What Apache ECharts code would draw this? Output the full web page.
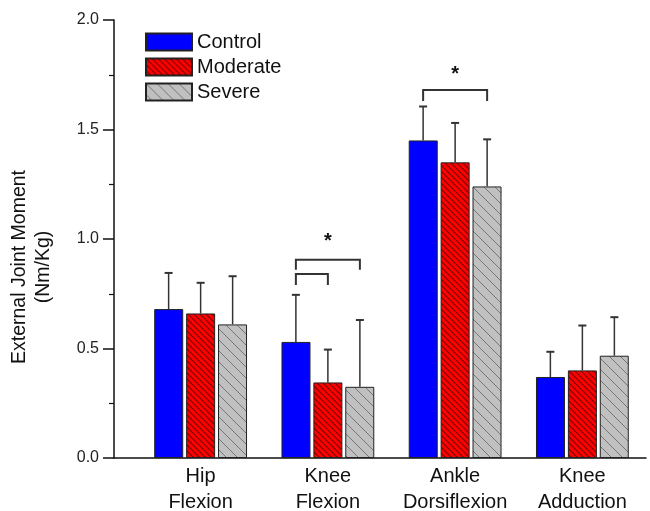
<!DOCTYPE html>
<html>
<head>
<meta charset="utf-8">
<script src="https://cdn.jsdelivr.net/npm/echarts@6/dist/echarts.min.js"></script>
<style>
  html, body { margin: 0; padding: 0; background: #fff; }
  #chart { width: 650px; height: 511px; }
</style>
</head>
<body>
<div id="chart"></div>
<script>
const categories = ['Hip\nFlexion', 'Knee\nFlexion', 'Ankle\nDorsiflexion', 'Knee\nAdduction'];
const groups = ['Control', 'Moderate', 'Severe'];
const controlMean = [0.68, 0.53, 1.45, 0.37];
const controlSD = [0.165, 0.215, 0.155, 0.115];
const moderateMean = [0.66, 0.345, 1.35, 0.40];
const moderateSD = [0.14, 0.15, 0.18, 0.205];
const severeMean = [0.61, 0.325, 1.24, 0.467];
const severeSD = [0.22, 0.305, 0.215, 0.176];
// [category, from bar, to bar, bracket top, leg end, star level]
const brackets = [
  [1, 0, 2, 0.905, 0.86, 0.99],
  [1, 0, 1, 0.84, 0.79, null],
  [2, 0, 2, 1.68, 1.63, 1.75]
];
const yTicks = [0, 0.5, 1.0, 1.5, 2.0];

const BAR_W = 29;
const BAR_STEP = 32;
const FONT = 'Arial, "Liberation Sans", sans-serif';

// diagonal "\" hatch pattern
function hatch(bg, line, size, width) {
  const c = document.createElement('canvas');
  c.width = c.height = size;
  const ctx = c.getContext('2d');
  ctx.fillStyle = bg;
  ctx.fillRect(0, 0, size, size);
  ctx.strokeStyle = line;
  ctx.lineWidth = width;
  [-size, 0, size].forEach(k => {
    ctx.beginPath();
    ctx.moveTo(k, 0);
    ctx.lineTo(k + size, size);
    ctx.stroke();
  });
  return { image: c, repeat: 'repeat' };
}

const fills = [
  '#0000ff',
  hatch('#ff0000', '#7a0000', 6, 1.2),
  hatch('#c0c0c0', '#767676', 11, 1)
];
const means = [controlMean, moderateMean, severeMean];
const sds = [controlSD, moderateSD, severeSD];

const barSeries = groups.map((g, i) => ({
  name: g,
  type: 'bar',
  barWidth: BAR_W,
  barGap: '10%',
  data: means[i],
  itemStyle: { color: fills[i], borderColor: '#222', borderWidth: 1 },
  z: 2
}));

const errSeries = groups.map((g, i) => ({
  type: 'custom',
  data: means[i].map((m, k) => [k, m, sds[i][k]]),
  z: 3,
  renderItem: (params, api) => {
    const base = api.coord([api.value(0), api.value(1)]);
    const top = api.coord([api.value(0), api.value(1) + api.value(2)]);
    const x = base[0] + (i - 1) * BAR_STEP;
    const style = { stroke: '#333', lineWidth: 1.5 };
    return {
      type: 'group',
      children: [
        { type: 'line', shape: { x1: x, y1: base[1], x2: x, y2: top[1] }, style },
        { type: 'line', shape: { x1: x - 4, y1: top[1], x2: x + 4, y2: top[1] }, style: { stroke: '#333', lineWidth: 2 } }
      ]
    };
  }
}));

const bracketSeries = {
  type: 'custom',
  data: brackets,
  z: 4,
  renderItem: (params, api) => {
    const cat = api.value(0);
    const c = api.coord([cat, api.value(3)]);
    const leg = api.coord([cat, api.value(4)]);
    const x1 = c[0] + (api.value(1) - 1) * BAR_STEP;
    const x2 = c[0] + (api.value(2) - 1) * BAR_STEP;
    const style = { stroke: '#333', lineWidth: 2, fill: null };
    const children = [{
      type: 'polyline',
      shape: { points: [[x1, leg[1]], [x1, c[1]], [x2, c[1]], [x2, leg[1]]] },
      style
    }];
    const star = brackets[params.dataIndex][5];
    if (star != null) {
      const s = api.coord([cat, star]);
      children.push({
        type: 'text',
        x: (x1 + x2) / 2,
        y: s[1],
        style: { text: '*', fontSize: 20, fontWeight: 'bold', fontFamily: FONT, fill: '#111', align: 'center', verticalAlign: 'middle' }
      });
    }
    return { type: 'group', children };
  }
};

const chart = echarts.init(document.getElementById('chart'));
chart.setOption({
  animation: false,
  backgroundColor: '#fff',
  legend: {
    data: groups,
    orient: 'vertical',
    left: 140,
    top: 27,
    itemWidth: 46,
    itemHeight: 17,
    itemGap: 5,
    icon: 'rect',
    textStyle: { fontSize: 20, color: '#111', fontFamily: FONT }
  },
  grid: [
    { left: 137, right: 4, top: 20, bottom: 53, outerBoundsMode: 'none' },
    { left: 114, right: 4, top: 20, bottom: 53, outerBoundsMode: 'none' }
  ],
  xAxis: [
    {
      type: 'category',
      data: categories,
      gridIndex: 0,
      axisLine: { show: false },
      axisTick: { show: false },
      axisLabel: { fontSize: 20, lineHeight: 26, color: '#111', fontFamily: FONT, margin: 5, interval: 0 }
    },
    {
      type: 'value',
      gridIndex: 1,
      min: 0,
      max: 1,
      axisLine: { show: true, lineStyle: { color: '#111', width: 1.5 } },
      axisTick: { show: false },
      axisLabel: { show: false },
      splitLine: { show: false }
    }
  ],
  yAxis: [
    {
      type: 'value',
      gridIndex: 0,
      min: yTicks[0],
      max: yTicks[yTicks.length - 1],
      interval: 0.5,
      offset: 23,
      name: 'External Joint Moment\n(Nm/Kg)',
      nameLocation: 'middle',
      nameRotate: 90,
      nameGap: 58,
      nameTextStyle: { fontSize: 19.5, lineHeight: 24, color: '#111', fontFamily: FONT, padding: [0, 56, 0, 0] },
      axisLine: { show: true, lineStyle: { color: '#111', width: 1.5 } },
      axisTick: { show: true, length: 11, lineStyle: { color: '#111', width: 1.5 } },
      minorTick: { show: true, splitNumber: 2, length: 5, lineStyle: { color: '#111', width: 1.2 } },
      axisLabel: { fontSize: 16, color: '#222', fontFamily: FONT, margin: 15, formatter: v => v.toFixed(1) },
      splitLine: { show: false }
    },
    { type: 'value', gridIndex: 1, show: false }
  ],
  series: [...barSeries, ...errSeries, bracketSeries]
});
</script>
</body>
</html>
